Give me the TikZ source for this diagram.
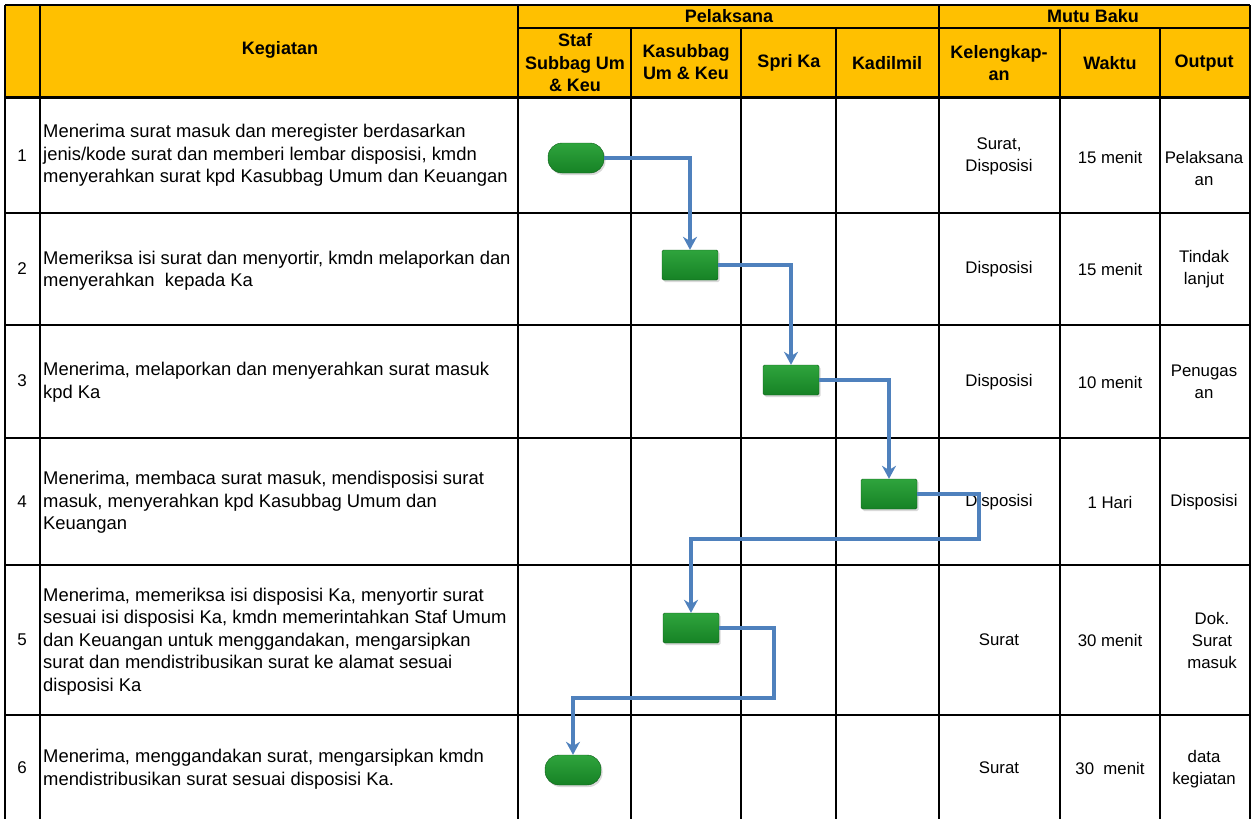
\documentclass[tikz,border=0pt]{standalone}
\usepackage{fontspec}
\setmainfont{Liberation Sans}
\usepackage{xcolor}
\definecolor{hdrgold}{HTML}{FFC000}
\definecolor{flowblue}{HTML}{4F81BD}
\definecolor{boxlight}{HTML}{2FA43D}
\definecolor{boxgreen}{HTML}{168225}
\definecolor{boxdark}{HTML}{0E5E19}
\usetikzlibrary{arrows.meta, shadows, positioning}

\begin{document}
\begin{tikzpicture}[
  x=1pt, y=-1pt,
  grid/.style={line width=1.6pt, black},
  hdr/.style={align=center, font=\fontsize{18}{22.5}\selectfont\bfseries},
  nomor/.style={font=\fontsize{17}{22.5}\selectfont},
  kegiatan/.style={anchor=west, align=left, inner sep=0pt,
    font=\fontsize{18.4}{22.5}\selectfont},
  mutu/.style={align=center, inner sep=0pt, font=\fontsize{16.8}{22}\selectfont},
  terminal/.style={rectangle, rounded corners=14pt,
    minimum width=56pt, minimum height=30pt,
    top color=boxlight, bottom color=boxgreen, draw=boxdark,
    drop shadow={shadow xshift=1.5pt, shadow yshift=-2pt, opacity=0.3}},
  proses/.style={rectangle, rounded corners=1.5pt,
    minimum width=56pt, minimum height=30pt,
    top color=boxlight, bottom color=boxgreen, draw=boxdark,
    drop shadow={shadow xshift=1.5pt, shadow yshift=-2pt, opacity=0.3}},
  arr/.style={-{Stealth[length=13pt, width=14pt]}, line width=3.4pt, draw=flowblue}
]
  \useasboundingbox (0,0) rectangle (1256,819);

  % header
  \fill[hdrgold] (5,5) rectangle (1250,97);
  \draw[grid] (5,5) -- (1250,5);
  \draw[grid] (518,28) -- (1250,28);
  \draw[grid, line width=3pt] (5,97) -- (1250,97);
  \draw[grid] (5,213) -- (1250,213);
  \draw[grid] (5,325) -- (1250,325);
  \draw[grid] (5,438) -- (1250,438);
  \draw[grid] (5,565) -- (1250,565);
  \draw[grid] (5,715) -- (1250,715);
  \draw[grid] (5,5) -- (5,819);
  \draw[grid] (40,5) -- (40,819);
  \draw[grid] (518,5) -- (518,819);
  \draw[grid] (939,5) -- (939,819);
  \draw[grid] (1250,5) -- (1250,819);
  \draw[grid] (631,28) -- (631,819);
  \draw[grid] (741,28) -- (741,819);
  \draw[grid] (836,28) -- (836,819);
  \draw[grid] (1060,28) -- (1060,819);
  \draw[grid] (1160,28) -- (1160,819);

  \node[hdr] (kegiatan) at (280,50) {Kegiatan};
  \node[hdr] (pelaksana) at (729,16) {Pelaksana};
  \node[hdr] (mutubaku) at (1093,16) {Mutu Baku};
  \node[hdr] (staf) at (575,63) {Staf\\Subbag Um\\\& Keu};
  \node[hdr] (kasubbag) at (686,62) {Kasubbag\\Um \& Keu};
  \node[hdr] (spri) at (789,63) {Spri Ka};
  \node[hdr] (kadilmil) at (887,63) {Kadilmil};
  \node[hdr] (kelengkapan) at (999,63) {Kelengkap-\\an};
  \node[hdr] (waktu) at (1110,63) {Waktu};
  \node[hdr] (output) at (1204,63) {Output};

  % rows
  \node[nomor] (n1) at (22,156) {1};
  \node[nomor] (n2) at (22,269) {2};
  \node[nomor] (n3) at (22,381) {3};
  \node[nomor] (n4) at (22,502) {4};
  \node[nomor] (n5) at (22,640) {5};
  \node[nomor] (n6) at (22,768) {6};

  \node[kegiatan] (k1) at (43,155.5) {Menerima surat masuk dan meregister berdasarkan\\
    jenis/kode surat dan memberi lembar disposisi, kmdn\\
    menyerahkan surat kpd Kasubbag Umum dan Keuangan};
  \node[kegiatan] (k2) at (43,270.5) {Memeriksa isi surat dan menyortir, kmdn melaporkan dan\\
    menyerahkan\ \ kepada Ka};
  \node[kegiatan] (k3) at (43,382) {Menerima, melaporkan dan menyerahkan surat masuk\\
    kpd Ka};
  \node[kegiatan] (k4) at (43,502.5) {Menerima, membaca surat masuk, mendisposisi surat\\
    masuk, menyerahkan kpd Kasubbag Umum dan\\
    Keuangan};
  \node[kegiatan] (k5) at (43,641.5) {Menerima, memeriksa isi disposisi Ka, menyortir surat\\
    sesuai isi disposisi Ka, kmdn memerintahkan Staf Umum\\
    dan Keuangan untuk menggandakan, mengarsipkan\\
    surat dan mendistribusikan surat ke alamat sesuai\\
    disposisi Ka};
  \node[kegiatan] (k6) at (43,769) {Menerima, menggandakan surat, mengarsipkan kmdn\\
    mendistribusikan surat sesuai disposisi Ka.};

  \node[mutu] (kl1) at (999,156) {Surat,\\Disposisi};
  \node[mutu] (w1) at (1110,157) {15 menit};
  \node[mutu] (o1) at (1204,168) {Pelaksana\\an};
  \node[mutu] (kl2) at (999,269) {Disposisi};
  \node[mutu] (w2) at (1110,269) {15 menit};
  \node[mutu] (o2) at (1204,269) {Tindak\\lanjut};
  \node[mutu] (kl3) at (999,382) {Disposisi};
  \node[mutu] (w3) at (1110,382) {10 menit};
  \node[mutu] (o3) at (1204,382) {Penugas\\an};
  \node[mutu] (kl4) at (999,502) {Disposisi};
  \node[mutu] (w4) at (1110,502) {1 Hari};
  \node[mutu] (o4) at (1204,502) {Disposisi};
  \node[mutu] (kl5) at (999,640) {Surat};
  \node[mutu] (w5) at (1110,640) {30 menit};
  \node[mutu] (o5) at (1212,640) {Dok.\\Surat\\masuk};
  \node[mutu] (kl6) at (999,768) {Surat};
  \node[mutu] (w6) at (1110,768) {30\ \ menit};
  \node[mutu] (o6) at (1204,769) {data\\kegiatan};

  % flow
  \node[terminal] (mulai) at (576,158) {};
  \node[proses] (periksa) at (690,265) {};
  \node[proses] (lapor) at (791,380) {};
  \node[proses] (disposisi) at (889,494) {};
  \node[proses] (sortir) at (691,628) {};
  \node[terminal] (arsip) at (573,770) {};
  \coordinate (belok1) at (979,539);
  \coordinate (belok2) at (774,698);

  \draw[arr] (mulai) -| (periksa);
  \draw[arr] (periksa) -| (lapor);
  \draw[arr] (lapor) -| (disposisi);
  \draw[arr] (disposisi) -| (belok1) -| (sortir);
  \draw[arr] (sortir) -| (belok2) -| (arsip);
\end{tikzpicture}
\end{document}
